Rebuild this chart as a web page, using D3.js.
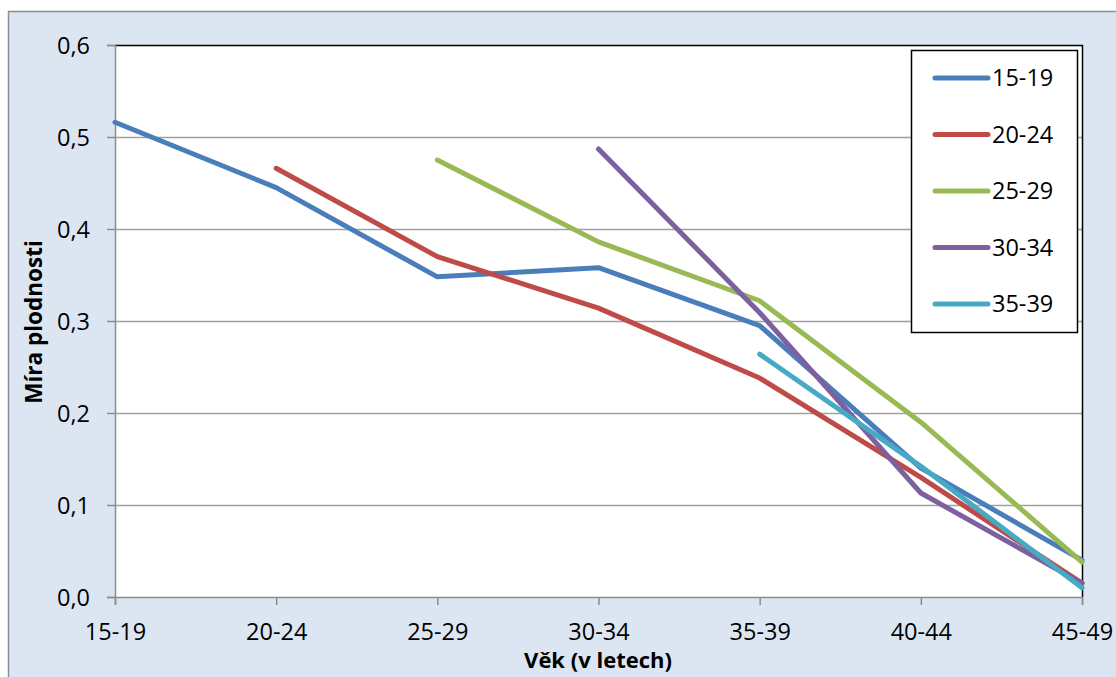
<!DOCTYPE html>
<html>
<head>
<meta charset="utf-8">
<script src="https://cdn.jsdelivr.net/npm/d3@7"></script>
<style>
body { margin: 0; background: #fff; }
svg text { font-family: "Open Sans", "Noto Sans", sans-serif; fill: #000; }
</style>
</head>
<body>
<svg id="chart" width="1116" height="677"></svg>
<script>
// categories (age groups) and cohort series
var ages = ["15-19", "20-24", "25-29", "30-34", "35-39", "40-44", "45-49"]
var cohorts = ["15-19", "20-24", "25-29", "30-34", "35-39"]
var colors = ["#4a7ebb", "#be4b48", "#98b954", "#7d60a0", "#46aac5"]

// each series starts at the age group matching its cohort
var s1519 = [0.516, 0.445, 0.348, 0.358, 0.295, 0.140, 0.040]
var s2024 = [0.466, 0.370, 0.314, 0.238, 0.130, 0.015]
var s2529 = [0.475, 0.386, 0.322, 0.190, 0.038]
var s3034 = [0.487, 0.309, 0.113, 0.015]
var s3539 = [0.264, 0.142, 0.010]
var seriesValues = [s1519, s2024, s2529, s3034, s3539]

var yTicks = [0, 0.1, 0.2, 0.3, 0.4, 0.5, 0.6]

var svg = d3.select("#chart")
var width = 1116
var height = 677
var margin = {left: 115, right: 1082, top: 45, bottom: 597}
var fontSize = "23.5px"

// outer chart background
svg.append("rect")
    .attr("x", 8.5).attr("y", 11.5)
    .attr("width", width).attr("height", height)
    .style("fill", "#dce6f2")
    .style("stroke", "#8c8c8c")
    .style("stroke-width", 1.5)

var x = d3.scalePoint().domain(ages).range([margin.left, margin.right])
var y = d3.scaleLinear().domain([0, 0.6]).range([margin.bottom, margin.top])

// plot area
svg.append("rect")
    .attr("x", margin.left).attr("y", margin.top)
    .attr("width", margin.right - margin.left)
    .attr("height", margin.bottom - margin.top)
    .style("fill", "#fff")

// gridlines
svg.append("g")
    .selectAll("line")
    .data(yTicks.slice(1, -1))
    .enter().append("line")
    .attr("x1", margin.left).attr("x2", margin.right)
    .attr("y1", d => y(d) + 0.5).attr("y2", d => y(d) + 0.5)
    .style("stroke", "#a0a0a0")
    .style("stroke-width", 1.5)

// plot border top/right (black)
svg.append("path")
    .attr("d", "M" + margin.left + "," + (margin.top + 0.5) + "H" + (margin.right + 0.5) + "V" + margin.bottom)
    .style("fill", "none")
    .style("stroke", "#000")
    .style("stroke-width", 1.5)

// y axis
var yAxis = d3.axisLeft(y)
    .tickValues(yTicks)
    .tickSize(8)
    .tickPadding(17)
    .tickFormat(d => d3.format(".1f")(d).replace(".", ","))
var gy = svg.append("g")
    .attr("transform", "translate(" + margin.left + ",0)")
    .call(yAxis)
gy.selectAll("text").style("font-size", fontSize).attr("dy", "0.35em")

// x axis
var xAxis = d3.axisBottom(x).tickSize(8).tickPadding(18)
var gx = svg.append("g")
    .attr("transform", "translate(0," + margin.bottom + ")")
    .call(xAxis)
gx.selectAll("text").style("font-size", fontSize)

svg.selectAll(".domain, .tick line")
    .style("stroke", "#8c8c8c")
    .style("stroke-width", 1.5)

// series lines
var line = d3.line()
    .x(d => x(d.age))
    .y(d => y(d.v))

cohorts.forEach(function(c, i) {
    var start = ages.indexOf(c)
    var pts = seriesValues[i].map(function(v, j) {
        return {age: ages[start + j], v: v}
    })
    svg.append("path")
        .datum(pts)
        .attr("d", line)
        .style("fill", "none")
        .style("stroke", colors[i])
        .style("stroke-width", 5)
        .style("stroke-linecap", "round")
        .style("stroke-linejoin", "round")
})

// legend
var legend = svg.append("g")
legend.append("rect")
    .attr("x", 911.5).attr("y", 50.5)
    .attr("width", 166).attr("height", 282)
    .style("fill", "#fff")
    .style("stroke", "#000")
    .style("stroke-width", 1.5)

var item = legend.selectAll(".item")
    .data(cohorts)
    .enter().append("g")
    .attr("class", "item")
    .attr("transform", (d, i) => "translate(0," + (78 + i * 56.5) + ")")
item.append("line")
    .attr("x1", 935).attr("x2", 988)
    .style("stroke", (d, i) => colors[i])
    .style("stroke-width", 5)
    .style("stroke-linecap", "round")
item.append("text")
    .attr("x", 992)
    .attr("dy", "0.36em")
    .style("font-size", fontSize)
    .text(d => d)

// axis titles
svg.append("text")
    .attr("x", 598).attr("y", 668)
    .attr("text-anchor", "middle")
    .style("font-size", "22px")
    .style("font-weight", "bold")
    .text("Věk (v letech)")

svg.append("text")
    .attr("transform", "translate(42,322) rotate(-90)")
    .attr("text-anchor", "middle")
    .style("font-size", "22.5px")
    .style("font-weight", "bold")
    .text("Míra plodnosti")
</script>
</body>
</html>
